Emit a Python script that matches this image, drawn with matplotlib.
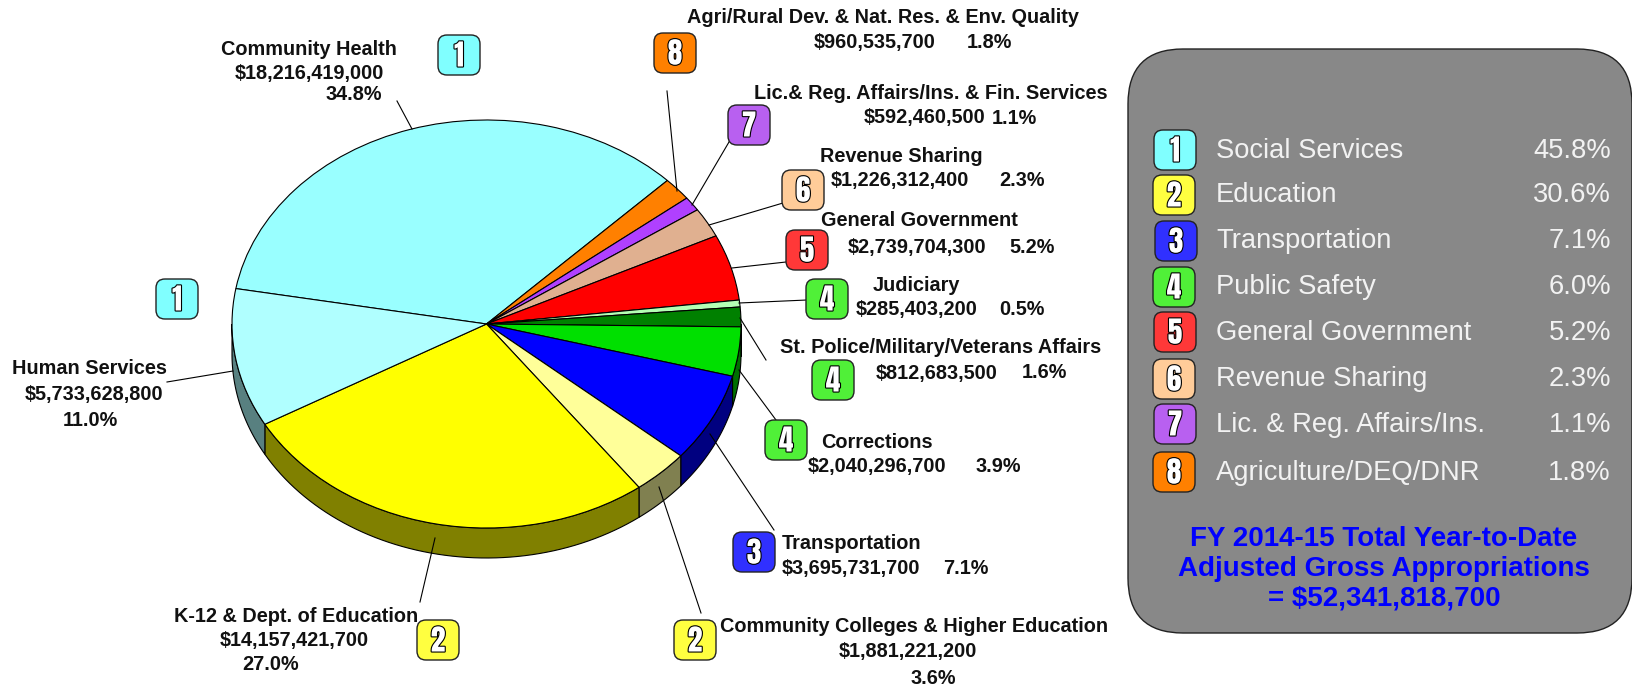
import numpy as np
import matplotlib
matplotlib.use("Agg")
import logging
logging.getLogger("matplotlib.font_manager").setLevel(logging.ERROR)
import matplotlib.pyplot as plt
import matplotlib.patheffects as pe
from matplotlib.patches import FancyBboxPatch

W, H = 1633, 688

names = ["Community Health", "Agri/Rural Dev. & Nat. Res. & Env. Quality",
         "Lic.& Reg. Affairs/Ins. & Fin. Services", "Revenue Sharing", "General Government",
         "Judiciary", "St. Police/Military/Veterans Affairs", "Corrections", "Transportation",
         "Community Colleges & Higher Education", "K-12 & Dept. of Education", "Human Services"]
amounts = [18216419000, 960535700, 592460500, 1226312400, 2739704300, 285403200,
           812683500, 2040296700, 3695731700, 1881221200, 14157421700, 5733628800]
shares = ["34.8%", "1.8%", "1.1%", "2.3%", "5.2%", "0.5%", "1.6%", "3.9%", "7.1%", "3.6%", "27.0%", "11.0%"]
groups = [1, 8, 7, 6, 5, 4, 4, 4, 3, 2, 2, 1]
top_colors = ["#99FFFF", "#FF8000", "#B040FF", "#E0B090", "#FF0000", "#B4FFB4",
              "#008000", "#00E000", "#0000FF", "#FFFF99", "#FFFF00", "#B0FFFF"]
side_colors = ["#4D8080", "#804000", "#582080", "#705848", "#800000", "#5A805A",
               "#004000", "#007000", "#000080", "#808050", "#808000", "#588080"]

legend_names = ["Social Services", "Education", "Transportation", "Public Safety", "General Government",
                "Revenue Sharing", "Lic. & Reg. Affairs/Ins.", "Agriculture/DEQ/DNR"]
legend_shares = ["45.8%", "30.6%", "7.1%", "6.0%", "5.2%", "2.3%", "1.1%", "1.8%"]
group_colors = ["#80FFFF", "#FFFF40", "#3030FF", "#50F038", "#FF3838", "#FFCC99", "#B860F0", "#FF8000"]
title_lines = ["FY 2014-15 Total Year-to-Date", "Adjusted Gross Appropriations", "= $52,341,818,700"]

plt.rcParams["font.family"] = ["Liberation Sans", "DejaVu Sans"]
fig = plt.figure(figsize=(W / 100, H / 100), dpi=100, facecolor="white")

# pie axes: the unit circle is stretched into the tilted ellipse
cx, cy, rx, ry, depth = 486.5, 324.0, 254.5, 204.0, 30.0
pie_ax = fig.add_axes([(cx - rx) / W, 1 - (cy + ry) / H, 2 * rx / W, 2 * ry / H])
start = 170.0
total = sum(amounts)
d = depth / ry
edges = start - np.cumsum([0] + amounts) / total * 360.0
for i, col in enumerate(side_colors):
    a, b = edges[i + 1] % 360, edges[i] % 360
    if a > b:
        b += 360
    for shift in (0, 360):
        lo, hi = max(a + shift, 180), min(b + shift, 360)
        if hi > lo:
            t = np.radians(np.linspace(lo, hi, 60))
            xs = np.r_[np.cos(t), np.cos(t[::-1])]
            ys = np.r_[np.sin(t), np.sin(t[::-1]) - d]
            pie_ax.fill(xs, ys, facecolor=col, edgecolor="black", linewidth=0.8, clip_on=False, zorder=1)
pie_ax.pie(amounts, colors=top_colors, startangle=start, counterclock=False, radius=1.0,
           wedgeprops=dict(edgecolor="black", linewidth=0.8, clip_on=False, zorder=2))
pie_ax.set_aspect("auto")
pie_ax.set_xlim(-1, 1)
pie_ax.set_ylim(-1, 1)
pie_ax.axis("off")

# overlay in figure pixels for annotation layout
ax = fig.add_axes([0, 0, 1, 1], facecolor="none")
ax.set_xlim(0, W)
ax.set_ylim(H, 0)
ax.axis("off")

leaders = [((397, 101), (412, 129)), ((667, 91), (677, 191)), ((729, 142), (692, 205)),
           ((783, 203), (709, 225)), ((786, 262), (732, 268)), ((807, 300), (739, 303)),
           ((766, 360), (740, 318)), ((776, 420), (739, 370)), ((774, 530), (710, 434)),
           ((701, 613), (659, 487)), ((420, 602), (435, 538)), ((167, 382), (233, 371))]
for (x0, y0), (x1, y1) in leaders:
    ax.plot([x0, x1], [y0, y1], color="black", lw=0.8, zorder=3)

name_pos = [(309, 49), (883, 17), (931, 93), (901, 156), (919, 220), (916, 285),
            (941, 347), (877, 442), (852, 543), (914, 626), (296, 616), (90, 368)]
amt_pos = [(309, 73), (875, 42), (925, 117), (900, 180), (917, 247), (917, 309),
           (937, 373), (877, 466), (851, 568), (908, 651), (294, 640), (94, 394)]
pct_pos = [(354, 94), (989, 42), (1014, 118), (1022, 180), (1032, 247), (1022, 309),
           (1044, 372), (998, 466), (966, 568), (933, 678), (271, 664), (90, 420)]
for n, v, s, p0, p1, p2 in zip(names, amounts, shares, name_pos, amt_pos, pct_pos):
    kw = dict(ha="center", va="center", fontsize=14.3, fontweight="bold", color="#111111", zorder=5)
    ax.text(p0[0], p0[1] + 0.5, n, **kw)
    ax.text(p1[0], p1[1] + 0.5, f"${v:,.0f}", **kw)
    ax.text(p2[0], p2[1] + 0.5, s, **kw)


def badge(x, y, num, w=42, h=40):
    ax.add_patch(FancyBboxPatch((x - w / 2 + 8, y - h / 2 + 8), w - 16, h - 16,
                                boxstyle="round,pad=8,rounding_size=9",
                                facecolor=group_colors[num - 1], edgecolor="#222222",
                                linewidth=1.0, zorder=6))
    ax.text(x, y + 0.5, str(num), ha="center", va="center", fontsize=21,
            family=["Anton", "Special Gothic Condensed One", "Liberation Sans"], color="white", zorder=7,
            path_effects=[pe.withStroke(linewidth=1.6, foreground="black")])


badge_pos = [(459, 55), (675, 53), (749, 125), (803, 190), (807, 250), (827, 299),
             (833, 380), (786, 440), (754, 552), (695, 640), (438, 640), (177, 299)]
for (x, y), g in zip(badge_pos, groups):
    badge(x, y, g)

# summary panel
ax.add_patch(FancyBboxPatch((1128 + 55, 49 + 55), 1632 - 1128 - 110, 633 - 49 - 110,
                            boxstyle="round,pad=55,rounding_size=55", facecolor="#888888",
                            edgecolor="#222222", linewidth=1.0, zorder=4, clip_on=False))
leg_y = [150, 195, 241, 287, 332, 379, 424, 472]
leg_x = [1175, 1174, 1176, 1174, 1175, 1174, 1175, 1174]
for i, (n, s, y, x) in enumerate(zip(legend_names, legend_shares, leg_y, leg_x)):
    badge(x, y, i + 1)
    ax.text(1216, y + 0.5, n, ha="left", va="center", fontsize=19.7, color="#F2F2F2", zorder=7)
    ax.text(1611, y + 0.5, s, ha="right", va="center", fontsize=19.7, color="#F2F2F2", zorder=7)
for y, line in zip([539, 569, 598], title_lines):
    ax.text(1384, y, line, ha="center", va="center", fontsize=20, fontweight="bold",
            color="#0000FF", zorder=7)

fig.savefig("out.png", dpi=100, facecolor="white")
